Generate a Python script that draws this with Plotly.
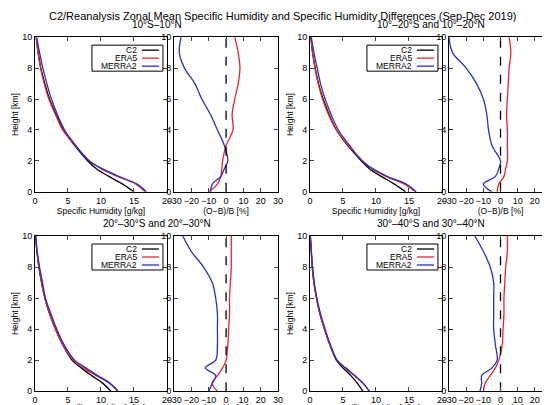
import plotly.graph_objects as go

heights = [0, 0.5, 1, 1.5, 2, 3, 4, 5, 6, 7, 8, 9, 10]

regions = ["10°S–10°N", "10°–20°S and 10°–20°N", "20°–30°S and 20°–30°N", "30°–40°S and 30°–40°N"]
names = ["C2", "ERA5", "MERRA2"]
colors = ["black", "#e8262a", "#2b2fc4"]

# specific humidity [g/kg]
q_c2 = [
    [15.0, 13.3, 11.2, 9.3, 8.0, 6.0, 4.3, 3.2, 2.2, 1.5, 0.9, 0.5, 0.2],
    [14.5, 12.8, 10.8, 9.0, 7.8, 5.7, 4.0, 2.9, 2.0, 1.3, 0.8, 0.4, 0.15],
    [11.5, 10.3, 8.6, 7.0, 5.6, 4.2, 3.1, 2.2, 1.5, 1.0, 0.6, 0.3, 0.1],
    [8.0, 7.2, 6.2, 5.0, 4.0, 3.0, 2.2, 1.5, 1.0, 0.6, 0.35, 0.2, 0.05],
]
q_era5 = [
    [16.7, 15.3, 12.5, 10.0, 8.3, 6.1, 4.2, 3.1, 2.1, 1.4, 0.85, 0.45, 0.18],
    [16.0, 14.3, 11.5, 9.4, 8.0, 5.8, 4.0, 2.8, 1.9, 1.25, 0.75, 0.4, 0.14],
    [12.5, 11.3, 9.3, 7.3, 5.8, 4.2, 3.1, 2.2, 1.5, 1.0, 0.6, 0.3, 0.1],
    [9.0, 8.0, 6.7, 5.3, 4.1, 3.0, 2.2, 1.5, 1.0, 0.6, 0.35, 0.2, 0.05],
]
q_merra2 = [
    [16.9, 15.5, 12.7, 10.2, 8.2, 6.2, 4.5, 3.4, 2.5, 1.8, 1.2, 0.7, 0.25],
    [16.1, 14.6, 11.7, 9.5, 7.9, 6.0, 4.3, 3.2, 2.3, 1.6, 1.1, 0.6, 0.2],
    [12.6, 11.4, 9.5, 7.7, 6.0, 4.4, 3.3, 2.4, 1.6, 1.15, 0.7, 0.35, 0.12],
    [9.0, 8.1, 6.8, 5.4, 4.1, 3.1, 2.3, 1.6, 1.05, 0.65, 0.4, 0.22, 0.06],
]
# (O-B)/B [%]
d_era5 = [
    [-10, -5, -3, -2.5, -2, 0, 4, 3.5, 5, 7, 8, 7, 5],
    [-2, -1, 2, 3, 4, 4, 4, 3.5, 4, 4.5, 5, 6, 5],
    [-5, -8, -5, -2, 0, 1, 1.5, 2, 2, 2.5, 3, 3, 3],
    [-10, -9, -6, -3, -1, 1, 1.5, 2, 2, 2.5, 3, 4, 4],
]
d_merra2 = [
    [-9, -8, -3, -1, 1, -1, -5, -9, -14, -18, -24, -27, -26],
    [-5, -10, -3, -1, 0, -5, -7, -8, -10, -14, -20, -28, -30],
    [-10, -8, -6, -12, -6, -5, -5, -5, -6, -8, -13, -20, -25],
    [-12, -11, -11, -5, -2, -3, -4, -4, -4, -4, -6, -10, -15],
]

W, H = 550, 405
xdom = [(0.049, 0.289, 0.302, 0.491), (0.549, 0.789, 0.802, 0.989)]
ydom = [(0.546, 0.928), (0.054, 0.437)]

fig = go.Figure()
ax_common = dict(showline=True, mirror="ticks", linecolor="black", linewidth=1,
                 ticks="inside", ticklen=4, showgrid=False, zeroline=False,
                 tickangle=0, automargin=False,
                 tickfont=dict(size=9, color="black"))
layout = {}
ann = []
shapes = []
for i in range(4):
    r, c = divmod(i, 2)
    n1, n2 = 2 * i + 1, 2 * i + 2
    xa1, xa2 = f"x{n1}", f"x{n2}"
    ya1, ya2 = f"y{n1}", f"y{n2}"
    for name, vals, col in zip(names, [q_c2[i], q_era5[i], q_merra2[i]], colors):
        fig.add_trace(go.Scatter(x=vals, y=heights, mode="lines", name=name, showlegend=False,
                                 line=dict(color=col, width=1.3, shape="spline"),
                                 xaxis=xa1, yaxis=ya1))
    for vals, col in [(d_era5[i], colors[1]), (d_merra2[i], colors[2])]:
        fig.add_trace(go.Scatter(x=vals, y=heights, mode="lines", showlegend=False,
                                 line=dict(color=col, width=1.3, shape="spline"),
                                 xaxis=xa2, yaxis=ya2))
    fig.add_trace(go.Scatter(x=[0, 0], y=[0, 10], mode="lines", showlegend=False,
                             line=dict(color="black", width=1.3, dash="dash"),
                             xaxis=xa2, yaxis=ya2))
    x0, x1, x2, x3 = xdom[c]
    y0, y1 = ydom[r]
    k1 = "xaxis" if n1 == 1 else f"xaxis{n1}"
    layout[k1] = dict(ax_common, domain=[x0, x1], anchor=ya1, range=[0, 20],
                      tickvals=[0, 5, 10, 15, 20],
                      title=dict(text="Specific Humidity [g/kg]", font=dict(size=8.5), standoff=0))
    layout[f"xaxis{n2}"] = dict(ax_common, domain=[x2, x3], anchor=ya2, range=[-30, 30],
                                tickvals=[-30, -20, -10, 0, 10, 20, 30],
                                title=dict(text="(O−B)/B [%]", font=dict(size=8.5), standoff=0))
    k2 = "yaxis" if n1 == 1 else f"yaxis{n1}"
    layout[k2] = dict(ax_common, domain=[y0, y1], anchor=xa1, range=[0, 10],
                      tickvals=[0, 2, 4, 6, 8, 10],
                      title=dict(text="Height [km]", font=dict(size=8.5), standoff=2))
    layout[f"yaxis{n2}"] = dict(ax_common, domain=[y0, y1], anchor=xa2, range=[0, 10],
                                tickvals=[0, 2, 4, 6, 8, 10])
    # boxed legend, lines on the right like the original
    px_r = x1 * W - 4
    px_l = px_r - 71
    py_t = (1 - y1) * H + 8
    shapes.append(dict(type="rect", xref="paper", yref="paper",
                       x0=px_l / W, x1=px_r / W, y0=1 - py_t / H, y1=1 - (py_t + 26) / H,
                       line=dict(color="black", width=1), fillcolor="white"))
    for j, (name, col) in enumerate(zip(names, colors)):
        py = py_t + 5 + j * 8
        ann.append(dict(text=name, x=(px_r - 24) / W, y=1 - py / H, xref="paper", yref="paper",
                        xanchor="right", yanchor="middle", showarrow=False,
                        font=dict(size=8.5, color="black")))
        shapes.append(dict(type="line", xref="paper", yref="paper",
                           x0=(px_r - 21) / W, x1=(px_r - 4) / W, y0=1 - py / H, y1=1 - py / H,
                           line=dict(color=col, width=1.3)))
    ann.append(dict(text=regions[i], x=(x0 + x3) / 2, y=y1 + 0.012, xref="paper", yref="paper",
                    xanchor="center", yanchor="bottom", showarrow=False,
                    font=dict(size=10, color="black")))

ann.append(dict(text="C2/Reanalysis Zonal Mean Specific Humidity and Specific Humidity Differences (Sep-Dec 2019)",
                x=0.5, y=1.0, xref="paper", yref="paper", xanchor="center", yanchor="top",
                showarrow=False, font=dict(size=11, color="black")))

fig.update_layout(**layout)
fig.update_layout(width=W, height=H, margin=dict(l=0, r=0, t=0, b=0),
                  plot_bgcolor="white", paper_bgcolor="white", showlegend=False,
                  font=dict(family="Liberation Sans, Arial", color="black"),
                  annotations=ann, shapes=shapes)
fig.write_html("out.html")
